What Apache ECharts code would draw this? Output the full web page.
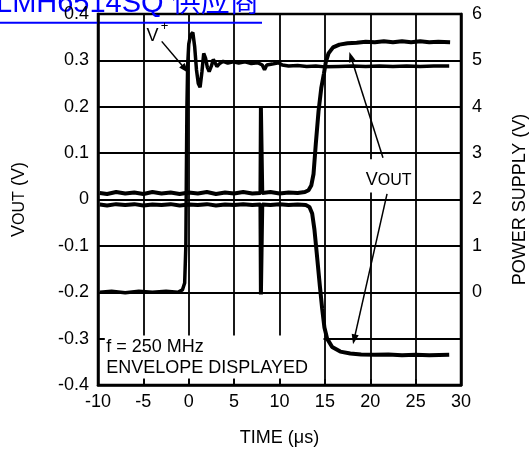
<!DOCTYPE html>
<html><head><meta charset="utf-8">
<script src="https://cdn.jsdelivr.net/npm/echarts@6/dist/echarts.min.js"></script>
<style>html,body{margin:0;padding:0;background:#fff}#c{width:532px;height:454px}</style>
</head><body><div id="c"></div>
<script>
// ---- data ----
const xTickLabels = ['-10','-5','0','5','10','15','20','25','30'];
const leftTickLabels = ['-0.4','-0.3','-0.2','-0.1','0','0.1','0.2','0.3','0.4'];
const rightTickLabels = ['','','0','1','2','3','4','5','6'];

// power supply V+ : [time (us), volts] (right axis)
const supplyV = [[-9.8,0.0],[-8.5,0.02],[-7,-0.01],[-5.5,0.02],[-4,0.0],[-2.5,0.02],[-1.2,0.0],[-0.7,0.05],[-0.45,0.2],[-0.32,1.0],[-0.26,2.6],[-0.2,4.0],[-0.12,4.9],[0.0,5.35],[0.2,5.55],[0.45,5.6],[0.65,5.3],[0.85,4.8],[1.05,4.5],[1.25,4.42],[1.45,4.75],[1.65,5.15],[1.85,5.05],[2.05,4.85],[2.25,4.76],[2.5,4.88],[2.7,5.02],[2.9,4.95],[3.1,4.87],[3.4,4.93],[3.8,4.98],[4.3,4.94],[4.9,4.97],[5.5,4.94],[6.2,4.97],[6.9,4.93],[7.6,4.95],[8.1,4.9],[8.35,4.8],[8.6,4.9],[9.2,4.92],[9.9,4.95],[10.3,4.9],[11,4.88],[12,4.89],[13,4.87],[14,4.88],[15,4.86],[16.5,4.87],[18,4.88],[19.5,4.87],[21,4.88],[22.5,4.87],[24,4.88],[25.5,4.87],[27,4.88],[28.7,4.88]];

// VOUT envelope, upper edge : [time (us), volts] (left axis)
const voutUpper = [[-9.8,0.014],[-9,0.012],[-8,0.016],[-7,0.013],[-6,0.015],[-5,0.012],[-4,0.016],[-3,0.013],[-2,0.015],[-1,0.012],[0,0.015],[1,0.013],[2,0.016],[3,0.012],[4,0.015],[5,0.013],[6,0.016],[7,0.013],[7.9,0.014],[7.95,0.198],[8.05,0.198],[8.1,0.014],[9,0.016],[10,0.013],[11,0.015],[12,0.014],[12.8,0.016],[13.2,0.02],[13.5,0.03],[13.75,0.055],[14.0,0.12],[14.3,0.19],[14.6,0.24],[14.9,0.272],[15.1,0.296],[15.4,0.315],[15.9,0.328],[16.6,0.334],[17.5,0.337],[18.5,0.338],[19.5,0.34],[20.5,0.339],[21.5,0.341],[22.5,0.339],[23.5,0.341],[24.5,0.339],[25.5,0.341],[26.5,0.339],[27.5,0.34],[28.8,0.339]];

// VOUT envelope, lower edge
const voutLower = [[-9.8,-0.011],[-9,-0.013],[-8,-0.01],[-7,-0.012],[-6,-0.01],[-5,-0.013],[-4,-0.011],[-3,-0.012],[-2,-0.01],[-1,-0.013],[0,-0.011],[1,-0.012],[2,-0.01],[3,-0.013],[4,-0.011],[5,-0.012],[6,-0.01],[7,-0.012],[7.9,-0.011],[7.95,-0.205],[8.05,-0.205],[8.1,-0.011],[9,-0.012],[10,-0.01],[11,-0.012],[12,-0.011],[12.9,-0.012],[13.3,-0.016],[13.6,-0.03],[13.85,-0.065],[14.1,-0.115],[14.45,-0.187],[14.7,-0.235],[14.95,-0.276],[15.25,-0.3],[15.8,-0.318],[16.7,-0.328],[17.8,-0.332],[19,-0.334],[20.5,-0.335],[22,-0.334],[23.5,-0.336],[25,-0.335],[26.5,-0.336],[28.7,-0.335]];

// ---- chart ----
const FONT = '"Liberation Sans", Arial, Helvetica, sans-serif';
const chart = echarts.init(document.getElementById('c'), null, {renderer: 'canvas'});
const lineStyleTrace = {color: '#000', width: 4};
const option = {
  animation: false,
  backgroundColor: '#fff',
  textStyle: {fontFamily: FONT, color: '#000'},
  grid: {left: 98, right: 71, top: 14, bottom: 69, containLabel: false, outerBoundsMode: 'none',
    show: true, borderColor: '#000', borderWidth: 2.5, backgroundColor: 'transparent'},
  xAxis: {
    type: 'value', min: -10, max: 30, interval: 5,
    name: 'TIME (μs)', nameLocation: 'middle', nameGap: 44,
    nameTextStyle: {fontSize: 18, color: '#000', fontFamily: FONT},
    axisLine: {show: true, onZero: false, lineStyle: {color: '#000', width: 2.5}},
    axisTick: {show: true, inside: true, length: 6, lineStyle: {color: '#000', width: 1.5}},
    axisLabel: {fontSize: 18, color: '#000', margin: 8, fontFamily: FONT,
      formatter: v => xTickLabels[Math.round((v + 10) / 5)]},
    splitLine: {show: true, lineStyle: {color: '#000', width: 1.8}}
  },
  yAxis: [{
    type: 'value', min: -0.4, max: 0.4, interval: 0.1, position: 'left',
    name: '{v|V}{s|OUT}{v| (V)}', nameLocation: 'middle', nameGap: 70, nameRotate: 90,
    nameTextStyle: {color: '#000', fontFamily: FONT, rich: {
      v: {fontSize: 18, lineHeight: 24, verticalAlign: 'bottom', fontFamily: FONT, color: '#000'},
      s: {fontSize: 16, lineHeight: 16, verticalAlign: 'bottom', fontFamily: FONT, color: '#000'}
    }},
    axisLine: {show: true, onZero: false, lineStyle: {color: '#000', width: 2.5}},
    axisTick: {show: true, inside: true, length: 6, lineStyle: {color: '#000', width: 1.5}},
    axisLabel: {fontSize: 18, color: '#000', margin: 9, fontFamily: FONT,
      formatter: v => leftTickLabels[Math.round((v + 0.4) / 0.1)]},
    splitLine: {show: true, lineStyle: {color: '#000', width: 1.8}}
  }, {
    type: 'value', min: -2, max: 6, interval: 1, position: 'right',
    name: 'POWER SUPPLY (V)', nameLocation: 'middle', nameGap: 50, nameRotate: 90,
    nameTextStyle: {fontSize: 18, color: '#000', fontFamily: FONT},
    axisLine: {show: true, onZero: false, lineStyle: {color: '#000', width: 2.5}},
    axisTick: {show: false},
    axisLabel: {fontSize: 18, color: '#000', margin: 11, fontFamily: FONT,
      formatter: v => rightTickLabels[Math.round(v + 2)]},
    splitLine: {show: false}
  }],
  series: [
    {name: 'V+', type: 'line', yAxisIndex: 1, data: supplyV, showSymbol: false, symbol: 'none', lineStyle: {color: '#000', width: 3.5}},
    {name: 'VOUT upper', type: 'line', yAxisIndex: 0, data: voutUpper, showSymbol: false, symbol: 'none', lineStyle: lineStyleTrace},
    {name: 'VOUT lower', type: 'line', yAxisIndex: 0, data: voutLower, showSymbol: false, symbol: 'none', lineStyle: lineStyleTrace}
  ]
};
chart.setOption(option);

// ---- annotations (positions given in data units, converted to pixels) ----
const P = (t, v) => chart.convertToPixel({gridIndex: 0}, [t, v]);
function arrow(from, to) {
  const a = P(from[0], from[1]), b = P(to[0], to[1]);
  const dx = b[0] - a[0], dy = b[1] - a[1], L = Math.hypot(dx, dy);
  const ux = dx / L, uy = dy / L, hl = 10, hw = 3.6;
  const base = [b[0] - ux * hl, b[1] - uy * hl];
  return [
    {type: 'line', z: 20, shape: {x1: a[0], y1: a[1], x2: base[0] + ux * 2, y2: base[1] + uy * 2}, style: {stroke: '#000', lineWidth: 1.5}},
    {type: 'polygon', z: 20, shape: {points: [b, [base[0] - uy * hw, base[1] + ux * hw], [base[0] + uy * hw, base[1] - ux * hw]]}, style: {fill: '#000'}}
  ];
}
const boxTL = P(-9.25, -0.293), boxBR = P(14.85, -0.386);
const voutBoxTL = P(19.3, 0.087), voutBoxBR = P(24.6, 0.015);
const vPlusV = P(-4.65, 0.3515), vPlusPlus = P(-2.68, 0.373);
const voutLbl = P(19.5, 0.0359);
const fTxt = P(-9.1, -0.3175), envTxt = P(-9.1, -0.363);
const graphics = [
  {type: 'rect', z: 5, shape: {x: boxTL[0], y: boxTL[1], width: boxBR[0] - boxTL[0], height: boxBR[1] - boxTL[1]}, style: {fill: '#fff'}},
  {type: 'rect', z: 5, shape: {x: voutBoxTL[0], y: voutBoxTL[1], width: voutBoxBR[0] - voutBoxTL[0], height: voutBoxBR[1] - voutBoxTL[1]}, style: {fill: '#fff'}},
  {type: 'text', z: 21, x: fTxt[0], y: fTxt[1], style: {text: 'f = 250 MHz', font: '18px ' + FONT, fill: '#000', align: 'left', verticalAlign: 'middle'}},
  {type: 'text', z: 21, x: envTxt[0], y: envTxt[1], style: {text: 'ENVELOPE DISPLAYED', font: '18px ' + FONT, fill: '#000', align: 'left', verticalAlign: 'middle'}},
  {type: 'text', z: 21, x: vPlusV[0], y: vPlusV[1], style: {text: 'V', font: '18px ' + FONT, fill: '#000', align: 'left', verticalAlign: 'middle'}},
  {type: 'text', z: 21, x: vPlusPlus[0], y: vPlusPlus[1], style: {text: '+', font: '13px ' + FONT, fill: '#000', align: 'center', verticalAlign: 'middle'}},
  {type: 'text', z: 21, x: voutLbl[0], y: voutLbl[1] + 5.7, style: {text: '{v|V}{s|OUT}', align: 'left', verticalAlign: 'bottom', fill: '#000',
    rich: {v: {fontSize: 18, lineHeight: 24, verticalAlign: 'bottom', fontFamily: FONT, fill: '#000'},
           s: {fontSize: 16, lineHeight: 16, verticalAlign: 'bottom', fontFamily: FONT, fill: '#000'}}}},
  ...arrow([-2.98, 0.341], [-0.04, 0.273]),
  ...arrow([21.4, 0.09], [17.7, 0.318]),
  ...arrow([21.85, 0.012], [18.1, -0.312]),
  // page link overlay at the top
  {type: 'text', z: 0, x: -4, y: 4.2, style: {text: 'LMH6514SQ 供应商', font: '29px "Liberation Sans", "Noto Sans CJK SC", sans-serif', fill: '#0000ff', align: 'left', verticalAlign: 'middle'}},
  {type: 'line', z: 0, shape: {x1: 0, y1: 22.7, x2: 262, y2: 22.7}, style: {stroke: '#0000ff', lineWidth: 2}}
];
chart.setOption({graphic: graphics});
</script>
</body></html>
